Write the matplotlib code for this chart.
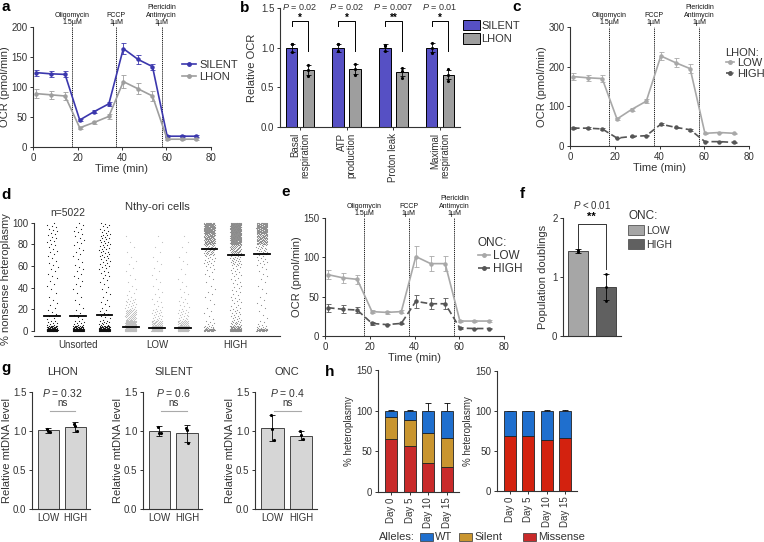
import numpy as np
import matplotlib
matplotlib.use('Agg')
import matplotlib.pyplot as plt
from matplotlib.patches import Rectangle, Patch
from matplotlib.lines import Line2D

plt.rcParams['font.family'] = ['Liberation Sans', 'DejaVu Sans']
plt.rcParams['mathtext.fontset'] = 'custom'
plt.rcParams['mathtext.it'] = 'Liberation Sans:italic'
plt.rcParams['mathtext.rm'] = 'Liberation Sans'
plt.rcParams['axes.linewidth'] = 0.8
plt.rcParams['text.color'] = '#333333'
plt.rcParams['axes.labelcolor'] = '#333333'

# ---- data ----
seahorse_t = [1.3, 7.9, 14.4, 21.0, 27.5, 34.1, 40.6, 47.2, 53.7, 60.3, 66.8, 73.4]
drug_t = [17.6, 37.4, 57.8]
drug_labels = ['Oligomycin\n1.5\u00b5M', 'FCCP\n1\u00b5M', 'Piericidin\nAntimycin\n1\u00b5M']

a_silent = [124, 122, 121, 45, 59, 72, 164, 146, 134, 18, 18, 18]
a_silent_err = [5, 5, 5, 2, 2, 3, 9, 7, 5, 2, 2, 2]
a_lhon = [89, 87, 85, 32, 41, 51, 109, 97, 85, 13, 13, 13]
a_lhon_err = [7, 7, 7, 2, 3, 4, 11, 9, 8, 2, 2, 2]

b_groups = ['Basal\nrespiration', 'ATP\nproduction', 'Proton leak', 'Maximal\nrespiration']
b_silent = [1.0, 1.0, 1.0, 1.0]
b_silent_err = [0.05, 0.05, 0.04, 0.06]
b_silent_pts = [[1.04, 1.04, 0.95], [1.04, 1.04, 0.96], [1.03, 1.02, 0.96], [1.06, 1.0, 0.93]]
b_lhon = [0.72, 0.73, 0.69, 0.66]
b_lhon_err = [0.06, 0.06, 0.05, 0.06]
b_lhon_pts = [[0.78, 0.72, 0.64], [0.79, 0.73, 0.65], [0.74, 0.71, 0.62], [0.73, 0.66, 0.58]]
b_pvals = ['0.02', '0.02', '0.007', '0.01']
b_stars = ['*', '*', '**', '*']

c_low = [175, 172, 170, 68, 92, 113, 227, 210, 195, 32, 34, 32]
c_low_err = [9, 8, 8, 3, 3, 5, 11, 11, 11, 2, 2, 2]
c_high = [45, 45, 43, 20, 24, 26, 55, 47, 41, 11, 11, 9]
c_high_err = [2, 2, 2, 1, 1, 1, 3, 2, 2, 1, 1, 1]

d_groups = ['Unsorted', 'LOW', 'HIGH']
d_bins = [0, 2, 5, 10, 20, 30, 40, 50, 60, 70, 80, 90, 100]
d_counts = [
    [90, 25, 8, 6, 4, 3, 4, 5, 5, 6, 8, 8],
    [80, 25, 8, 5, 3, 3, 4, 5, 4, 5, 6, 6],
    [90, 30, 10, 8, 5, 4, 5, 8, 12, 14, 14, 10],
    [120, 110, 70, 55, 18, 5, 3, 3, 3, 2, 2, 0],
    [90, 60, 30, 18, 7, 4, 3, 3, 3, 2, 2, 0],
    [90, 60, 30, 18, 8, 4, 3, 2, 3, 2, 2, 0],
    [30, 10, 5, 4, 3, 4, 3, 6, 15, 40, 90, 130],
    [70, 25, 15, 15, 10, 8, 8, 10, 25, 60, 140, 160],
    [30, 8, 4, 3, 4, 3, 3, 5, 10, 25, 80, 120],
]
d_medians = [14, 14, 15, 3.5, 3, 3, 76, 70, 71]

e_low = [78, 74, 72, 31, 30, 31, 101, 92, 92, 19, 19, 19]
e_low_err = [6, 6, 6, 2, 2, 2, 13, 10, 10, 1.5, 1.5, 1.5]
e_high = [36, 34, 33, 16, 14.5, 16, 44, 41, 41, 10, 9.5, 9.5]
e_high_err = [5, 5, 4, 1.5, 1, 1, 8, 7, 7, 1, 1, 1]

f_vals = [1.44, 0.83]
f_err = [0.03, 0.22]
f_pts = [[1.46, 1.44, 1.43], [1.05, 0.83, 0.6]]

g_titles = ['LHON', 'SILENT', 'ONC']
g_pvals = ['0.32', '0.6', '0.4']
g_means = [[1.01, 1.05], [1.0, 0.97], [1.04, 0.94]]
g_err = [[0.03, 0.06], [0.07, 0.11], [0.17, 0.06]]
g_pts = [[[1.02, 1.0, 0.99], [1.09, 1.07, 1.0]],
         [[1.05, 0.97, 0.98], [1.04, 1.01, 0.84]],
         [[1.21, 1.02, 0.88], [1.0, 0.95, 0.9]]]

h_days = ['Day 0', 'Day 5', 'Day 10', 'Day 15']
h1_missense = [65, 56, 36, 31]
h1_silent = [27, 32, 36, 35]
h1_wt = [8, 12, 28, 34]
h1_missense_err = [1, 1, 7, 6]
h1_silent_err = [1, 1, 4, 4]
h1_wt_err = [1, 1, 10, 9]
h2_missense = [69, 69, 64, 66]
h2_wt = [31, 31, 36, 34]
h2_missense_err = [0.5, 0.5, 0.8, 0.8]
h2_wt_err = [0.5, 0.5, 1, 1]

# ---- colours ----
col_silent_line = '#3b37ad'
col_silent_bar = '#5650c4'
col_lhon = '#9e9e9e'
col_low = '#a8a8a8'
col_high = '#555555'
col_wt = '#1f6fce'
col_sil = '#c9952f'
col_mis = '#c92a2a'
col_mis2 = '#d3220f'

W, H = 764, 542
fig = plt.figure(figsize=(W / 100, H / 100), dpi=100)


def add_ax(l, t, r, b):
    return fig.add_axes([l / W, 1 - b / H, (r - l) / W, (b - t) / H])


def ftext(x, y, s, **kw):
    fig.text(x / W, 1 - y / H, s, **kw)


def style(ax, size=7):
    for s in ['top', 'right']:
        ax.spines[s].set_visible(False)
    for s in ['left', 'bottom']:
        ax.spines[s].set_color('#333333')
    ax.tick_params(direction='out', length=2.5, width=0.7, labelsize=size,
                   colors='#333333', pad=1.5)


def ocr(ax, ymax, ystep, series):
    handles = []
    for y, e, col, ls, lab in series:
        eb = ax.errorbar(seahorse_t, y, yerr=e, color=col, marker='o', ms=2.2,
                         lw=1.2, elinewidth=0.6, capsize=1.8, capthick=0.6)
        h = Line2D([], [], color=col, marker='o', ms=2.5, lw=1.2, label=lab)
        if ls == '--':
            eb.lines[0].set_dashes((4, 2))
            h.set_dashes((3, 1.5))
        handles.append(h)
    for x, lab in zip(drug_t, drug_labels):
        ax.axvline(x, color='k', lw=0.6, ls=(0, (1.5, 1)))
        ax.text(x, ymax * 1.005, lab, ha='center', va='bottom', fontsize=5,
                linespacing=1.1, color='#111111')
    ax.set_xlim(0, 80)
    ax.set_ylim(0, ymax)
    ax.set_xticks([0, 20, 40, 60, 80])
    ax.set_yticks(np.arange(0, ymax + 1, ystep))
    style(ax, 7)
    ax.set_xlabel('Time (min)', fontsize=8, labelpad=1)
    ax.set_ylabel('OCR (pmol/min)', fontsize=8, labelpad=1)
    return handles


# ---- panel a ----
ax = add_ax(33, 27, 211, 147)
hs = ocr(ax, 200, 50, [(a_silent, a_silent_err, col_silent_line, '-', 'SILENT'),
                       (a_lhon, a_lhon_err, col_lhon, '-', 'LHON')])
ax.legend(handles=hs, loc='upper left', bbox_to_anchor=(176 / W, 1 - 54 / H),
          bbox_transform=fig.transFigure, frameon=False, fontsize=8, handlelength=1.3,
          handletextpad=0.3, labelspacing=0.2, borderpad=0)

# ---- panel b ----
ax = add_ax(280, 8, 460, 127)
x = np.arange(4)
ax.bar(x - 0.18, b_silent, 0.25, color=col_silent_bar, edgecolor='k', lw=0.7, label='SILENT')
ax.bar(x + 0.18, b_lhon, 0.25, color=col_lhon, edgecolor='k', lw=0.7, label='LHON')
ax.errorbar(x - 0.18, b_silent, yerr=b_silent_err, fmt='none', ecolor='k', elinewidth=0.6,
            capsize=1.8, capthick=0.6)
ax.errorbar(x + 0.18, b_lhon, yerr=b_lhon_err, fmt='none', ecolor='k', elinewidth=0.6,
            capsize=1.8, capthick=0.6)
for i in range(4):
    ax.plot([i - 0.18] * 3, b_silent_pts[i], 'k.', ms=2.5)
    ax.plot([i + 0.18] * 3, b_lhon_pts[i], 'k.', ms=2.5)
    ax.plot([i - 0.18, i - 0.18, i + 0.18, i + 0.18], [1.27, 1.34, 1.34, 0.96], color='k',
            lw=0.7, clip_on=False)
    ax.text(i, 1.38, b_stars[i], ha='center', va='center', fontsize=7, fontweight='bold',
            color='k')
    ax.text(i, 1.51, r'$\it{P}$ = ' + b_pvals[i], ha='center', va='center', fontsize=6.5)
ax.set_xlim(-0.43, 3.43)
ax.set_ylim(0, 1.5)
ax.set_yticks([0, 0.5, 1.0, 1.5])
ax.set_xticks(x)
ax.set_xticklabels(b_groups, rotation=90, fontsize=6.5, va='top', ha='center',
                   multialignment='right', linespacing=1.0)
style(ax, 7)
ax.set_ylabel('Relative OCR', fontsize=8, labelpad=3)
ax.legend(loc='upper left', bbox_to_anchor=(457 / W, 1 - 14 / H), bbox_transform=fig.transFigure,
          frameon=False, fontsize=8, handlelength=1.6, handleheight=1.1, handletextpad=0.1,
          labelspacing=0.2, borderpad=0)

# ---- panel c ----
ax = add_ax(570, 27, 749, 146)
hs = ocr(ax, 300, 100, [(c_low, c_low_err, col_low, '-', 'LOW'),
                        (c_high, c_high_err, col_high, '--', 'HIGH')])
ax.legend(handles=hs, loc='upper left', bbox_to_anchor=(720 / W, 1 - 42 / H),
          bbox_transform=fig.transFigure, frameon=False, fontsize=8, title='LHON:',
          title_fontsize=8, alignment='left', handlelength=0.8, handletextpad=0.2,
          labelspacing=0.05, borderpad=0)

# ---- panel d ----
ax = add_ax(34, 222, 280, 336)
ccols = ['#111111'] * 3 + ['#bdbdbd'] * 3 + ['#8a8a8a'] * 3
for j, counts in enumerate(d_counts):
    pos = j + 1
    vals = []
    for k, n in enumerate(counts):
        lo, hi = d_bins[k], d_bins[k + 1]
        vals += [lo + (hi - lo) * (m + 0.5) / n for m in range(n)]
    vals = np.array(vals)
    jit = ((np.arange(len(vals)) * 0.618034) % 1 - 0.5) * 0.42
    ax.scatter(pos + jit, vals, s=0.7, color=ccols[j], lw=0, zorder=2)
    ax.plot([pos - 0.3, pos + 0.3], [d_medians[j]] * 2, color='k', lw=1.3, zorder=3)
ax.set_xlim(0.31, 9.69)
ax.set_ylim(-4.5, 100.5)
ax.set_yticks([0, 20, 40, 60, 80, 100])
ax.set_xticks([2, 5, 8])
ax.set_xticklabels(d_groups, fontsize=8)
style(ax, 7)
ax.tick_params(axis='x', length=0, pad=3)
ax.spines['left'].set_bounds(0, 100)
ax.set_ylabel('% nonsense heteroplasmy', fontsize=8, labelpad=1)
ax.text(5, 114, 'Nthy-ori cells', ha='center', va='center', fontsize=8)
ax.text(1.6, 104, 'n=5022', ha='center', va='bottom', fontsize=7.5)

# ---- panel e ----
ax = add_ax(325, 218, 504, 336)
hs = ocr(ax, 150, 50, [(e_low, e_low_err, col_low, '-', 'LOW'),
                       (e_high, e_high_err, col_high, '--', 'HIGH')])
ax.legend(handles=hs, loc='upper left', bbox_to_anchor=(472 / W, 1 - 231 / H),
          bbox_transform=fig.transFigure, frameon=False, fontsize=8.5, title='ONC:',
          title_fontsize=8.5, alignment='left', handlelength=1.0, handletextpad=0.3,
          labelspacing=0.1, borderpad=0)

# ---- panel f ----
ax = add_ax(563, 218, 621, 336)
ax.bar([0, 1], f_vals, 0.73, color=['#a6a6a6', '#606060'], edgecolor='#333333', lw=0.6)
ax.errorbar([0, 1], f_vals, yerr=f_err, fmt='none', ecolor='k', elinewidth=0.6, capsize=2.5,
            capthick=0.6)
for i in range(2):
    ax.plot([i] * 3, f_pts[i], 'k.', ms=2)
ax.plot([0, 0, 1, 1], [1.49, 1.9, 1.9, 1.14], color='#333333', lw=0.7, clip_on=False)
ax.text(0.5, 1.93, '**', ha='center', va='bottom', fontsize=8, fontweight='bold', color='k')
ax.text(0.5, 2.22, r'$\it{P}$ < 0.01', ha='center', va='center', fontsize=7)
ax.set_xlim(-0.55, 1.56)
ax.set_ylim(0, 2)
ax.set_yticks([0, 1, 2])
ax.set_xticks([])
style(ax, 7)
ax.set_ylabel('Population doublings', fontsize=8, labelpad=3)
ax.legend(handles=[Patch(facecolor='#a6a6a6', edgecolor='#555555', lw=0.6, label='LOW'),
                   Patch(facecolor='#606060', edgecolor='#555555', lw=0.6, label='HIGH')],
          loc='upper left', bbox_to_anchor=(623 / W, 1 - 205 / H), bbox_transform=fig.transFigure,
          frameon=False, fontsize=7.5, title='ONC:', title_fontsize=8.5, alignment='left',
          handlelength=1.5, handleheight=1.1, handletextpad=0.2, labelspacing=0.3, borderpad=0)

# ---- panel g ----
g_boxes = [(32, 90), (143, 202), (255, 317)]
for k in range(3):
    l, r = g_boxes[k]
    ax = add_ax(l, 392, r, 509)
    ax.bar([0, 1], g_means[k], 0.78, color='#d6d6d6', edgecolor='#444444', lw=0.7)
    ax.errorbar([0, 1], g_means[k], yerr=g_err[k], fmt='none', ecolor='k', elinewidth=0.6,
                capsize=2.5, capthick=0.6)
    for i in range(2):
        ax.plot([i - 0.05, i, i + 0.05], g_pts[k][i], 'k.', ms=2.5)
    ax.plot([0.05, 1.0], [1.26, 1.26], color='#aaaaaa', lw=0.8)
    ax.text(0.52, 1.355, 'ns', ha='center', va='center', fontsize=7)
    ax.text(0.52, 1.49, r'$\it{P}$ = ' + g_pvals[k], ha='center', va='center', fontsize=7.5)
    ax.text(0.52, 1.76, g_titles[k], ha='center', va='center', fontsize=8)
    ax.set_xlim(-0.6, 1.55)
    ax.set_ylim(0, 1.5)
    ax.set_yticks([0, 0.5, 1.0, 1.5])
    ax.set_yticklabels(['0.0', '0.5', '1.0', '1.5'])
    ax.set_xticks([0, 1])
    ax.set_xticklabels(['LOW', 'HIGH'], fontsize=7.5)
    style(ax, 7)
    ax.tick_params(axis='x', length=0, pad=3)
    ax.set_ylabel('Relative mtDNA level', fontsize=8, labelpad=1)


# ---- panel h ----
def stack(ax, layers, errs):
    x = np.arange(4)
    bottom = np.zeros(4)
    for (vals, col), err in zip(layers, errs):
        vals = np.array(vals, dtype=float)
        top = bottom + vals
        ax.errorbar(x, top, yerr=[np.zeros(4), err], fmt='none', ecolor='k', elinewidth=0.6,
                    capsize=2.5, capthick=0.6, zorder=1)
        ax.bar(x, vals, 0.66, bottom=bottom, color=col, edgecolor='#222222', lw=0.6, zorder=2)
        bottom = top
    ax.set_xlim(-0.7, 3.65)
    ax.set_ylim(0, 150)
    ax.set_yticks([0, 50, 100, 150])
    ax.set_xticks(x)
    ax.set_xticklabels(h_days, rotation=90, fontsize=7)
    style(ax, 7)
    ax.tick_params(axis='x', length=2.5)
    ax.set_ylabel('% heteroplasmy', fontsize=7, labelpad=2)


ax = add_ax(378, 370, 459, 492)
stack(ax, [(h1_missense, col_mis), (h1_silent, col_sil), (h1_wt, col_wt)],
      [h1_missense_err, h1_silent_err, h1_wt_err])
ax = add_ax(497, 371, 577, 491)
stack(ax, [(h2_missense, col_mis2), (h2_wt, col_wt)], [h2_missense_err, h2_wt_err])

ftext(379, 537, 'Alleles:', fontsize=8, va='center')
for x0, col, lab in [(420, col_wt, 'WT'), (459, col_sil, 'Silent'), (523, col_mis, 'Missense')]:
    fig.patches.append(Rectangle((x0 / W, 1 - 541 / H), 13 / W, 8 / H, transform=fig.transFigure,
                                 facecolor=col, edgecolor='#333333', lw=0.5))
    ftext(x0 + 15, 537, lab, fontsize=8, va='center')

# ---- panel letters ----
for x0, y0, s in [(1, 7, 'a'), (240, 8, 'b'), (512, 7, 'c'), (1, 195, 'd'), (281, 192, 'e'),
                  (520, 194, 'f'), (1, 368, 'g'), (325, 372, 'h')]:
    ftext(x0, y0, s, fontsize=11, fontweight='bold', va='center', color='k')

fig.savefig('out.png', dpi=100)
